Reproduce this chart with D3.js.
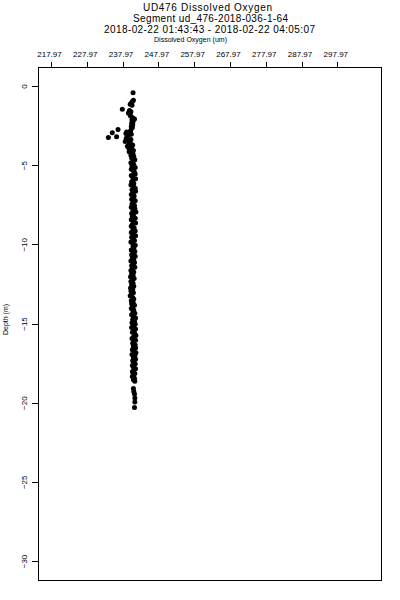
<!DOCTYPE html>
<html>
<head>
<meta charset="utf-8">
<script src="https://cdn.jsdelivr.net/npm/d3@7"></script>
<style>
  body { margin: 0; background: #fff; }
  svg { display: block; font-family: "Liberation Sans", Helvetica, Arial, sans-serif; }
</style>
</head>
<body>
<div id="chart"></div>
<script>
const titleLines = [
  "UD476 Dissolved Oxygen",
  "Segment ud_476-2018-036-1-64",
  "2018-02-22 01:43:43 - 2018-02-22 04:05:07"
];
const xLabel = "Dissolved Oxygen (um)";
const yLabel = "Depth (m)";

const xTicks = [217.97, 227.97, 237.97, 247.97, 257.97, 267.97, 277.97, 287.97, 297.97];
const xTickLabels = ["217.97", "227.97", "237.97", "247.97", "257.97", "267.97", "277.97", "287.97", "297.97"];
const yTicks = [0, -5, -10, -15, -20, -25, -30];

// near-surface samples (sparse, with the low outliers)
const depthTop = [
  -0.42, -0.9, -0.98, -1.08, -1.16, -1.22, -1.47, -1.55, -1.62, -1.7,
  -1.78, -1.9, -2.0, -2.08, -2.15, -2.25, -2.35, -2.45, -2.55, -2.62,
  -2.67, -2.74, -2.82, -2.9, -2.95, -2.97, -3.0, -3.05, -3.12, -3.2,
  -3.26, -3.3, -3.38, -3.45, -3.5, -3.58, -3.65, -3.72, -3.8, -3.86,
  -3.92, -4.0, -4.08, -4.15, -4.22, -4.3, -4.38, -4.45
];
const oxygenTop = [
  240.9, 241.0, 240.7, 240.4, 240.1, 240.6, 237.9, 239.9, 240.3, 239.6,
  240.0, 240.2, 240.8, 241.3, 240.6, 240.9, 240.5, 240.8, 240.4, 240.7,
  240.5, 236.7, 240.2, 239.1, 235.1, 239.8, 238.9, 240.4, 239.6, 236.3,
  234.0, 239.0, 240.3, 239.4, 238.7, 240.1, 239.9, 240.8, 239.3, 240.5,
  239.7, 240.2, 241.0, 239.8, 240.5, 240.9, 240.3, 241.1
];

// main column
const depthMid = [
  -4.55, -4.65, -4.75, -4.85, -4.95, -5.05, -5.15, -5.25, -5.35, -5.45,
  -5.55, -5.65, -5.75, -5.85, -5.95, -6.05, -6.15, -6.25, -6.35, -6.45,
  -6.55, -6.65, -6.75, -6.85, -6.95, -7.05, -7.15, -7.25, -7.35, -7.45,
  -7.55, -7.65, -7.75, -7.85, -7.95, -8.05, -8.15, -8.25, -8.35, -8.45,
  -8.55, -8.65, -8.75, -8.85, -8.95, -9.05, -9.15, -9.25, -9.35, -9.45,
  -9.55, -9.65, -9.75, -9.85, -9.95, -10.05, -10.15, -10.25, -10.35, -10.45,
  -10.55, -10.65, -10.75, -10.85, -10.95, -11.05, -11.15, -11.25, -11.35, -11.45,
  -11.55, -11.65, -11.75, -11.85, -11.95, -12.05, -12.15, -12.25, -12.35, -12.45,
  -12.55, -12.65, -12.75, -12.85, -12.95, -13.05, -13.15, -13.25, -13.35, -13.45,
  -13.55, -13.65, -13.75, -13.85, -13.95, -14.05, -14.15, -14.25, -14.35, -14.45,
  -14.55, -14.65, -14.75, -14.85, -14.95, -15.05, -15.15, -15.25, -15.35, -15.45,
  -15.55, -15.65, -15.75, -15.85, -15.95, -16.05, -16.15, -16.25, -16.35, -16.45,
  -16.55, -16.65, -16.75, -16.85, -16.95, -17.05, -17.15, -17.25, -17.35, -17.45,
  -17.55, -17.65, -17.75, -17.85, -17.95, -18.05, -18.15, -18.25, -18.35, -18.45,
  -18.55, -18.65
];
const oxygenMid = [
  240.5, 241.4, 240.9, 240.3, 241.1, 240.6, 241.5, 240.4, 241.0, 241.3,
  241.5, 240.4, 240.8, 241.6, 240.9, 240.5, 241.1, 240.3, 241.0, 241.5,
  240.6, 241.6, 240.9, 240.4, 241.2, 241.0, 240.5, 241.5, 240.9, 240.6,
  241.3, 240.4, 241.4, 240.9, 241.7, 240.5, 241.0, 240.7, 241.5, 240.4,
  241.0, 241.6, 240.7, 240.4, 241.2, 240.9, 241.5, 240.4, 241.0, 241.6,
  240.5, 240.9, 241.3, 240.3, 240.8, 241.5, 240.9, 241.1, 240.4, 241.4,
  240.9, 240.5, 241.5, 240.7, 241.1, 240.3, 241.3, 240.9, 240.5, 241.4,
  240.8, 240.3, 241.1, 240.5, 240.9, 240.2, 241.2, 240.7, 240.3, 240.9,
  240.5, 241.1, 240.2, 240.8, 240.3, 241.0, 240.5, 240.1, 240.8, 241.1,
  240.4, 240.9, 240.5, 241.3, 240.8, 240.4, 241.1, 240.9, 241.4, 240.5,
  241.0, 241.6, 240.8, 241.3, 240.6, 241.5, 241.0, 240.5, 241.6, 241.2,
  240.7, 241.4, 241.7, 241.0, 240.6, 241.6, 241.1, 240.8, 241.5, 241.0,
  241.6, 240.7, 241.2, 241.7, 240.6, 241.4, 241.0, 241.6, 240.8, 241.2,
  241.5, 240.7, 241.0, 241.6, 241.1, 240.7, 241.4, 241.0, 240.7, 241.3,
  241.0, 241.4
];

// deepest, sparse samples
const depthBottom = [-19.1, -19.3, -19.45, -19.7, -19.95, -20.3];
const oxygenBottom = [241.0, 241.1, 241.3, 241.4, 241.4, 241.3];

const width = 400, height = 600;
const plot = { left: 38, right: 381, top: 67, bottom: 580 };

const points = [];
[[depthTop, oxygenTop], [depthMid, oxygenMid], [depthBottom, oxygenBottom]].forEach(([ds, os]) => {
  ds.forEach((d, i) => points.push({ depth: d, oxygen: os[i] }));
});

const svg = d3.select("#chart")
  .append("svg")
  .attr("width", width)
  .attr("height", height);

const x = d3.scaleLinear().domain([214.34, 310.18]).range([plot.left, plot.right]);
const y = d3.scaleLinear().domain([1.2, -31.2]).range([plot.top, plot.bottom]);

// titles (the original bitmap font runs wide, so pin each line's width)
const titleX = [207.5, 210.5, 209.5];
const titleLen = [129, 155, 211];
svg.append("g")
  .selectAll("text")
  .data(titleLines)
  .join("text")
  .attr("x", (d, i) => titleX[i])
  .attr("y", (d, i) => 10.5 + i * 11)
  .attr("text-anchor", "middle")
  .attr("textLength", (d, i) => titleLen[i])
  .attr("lengthAdjust", "spacing")
  .style("font-size", "10px")
  .text(d => d);

svg.append("text")
  .attr("x", 190.5)
  .attr("y", 41.5)
  .attr("text-anchor", "middle")
  .attr("textLength", 73)
  .attr("lengthAdjust", "spacing")
  .style("font-size", "7px")
  .text(xLabel);

svg.append("text")
  .attr("transform", `translate(8, ${(plot.top + plot.bottom) / 2 - 4}) rotate(-90)`)
  .attr("text-anchor", "middle")
  .style("font-size", "7px")
  .text(yLabel);

// axes
const xAxis = d3.axisTop(x)
  .tickValues(xTicks)
  .tickSize(5)
  .tickPadding(5)
  .tickFormat((d, i) => xTickLabels[i]);

const gx = svg.append("g")
  .attr("transform", `translate(0, ${plot.top})`)
  .call(xAxis);
gx.select(".domain").remove();
gx.selectAll("line").attr("stroke", "#000").attr("shape-rendering", "crispEdges");
gx.selectAll("text").attr("fill", "#000").style("font-size", "8px").attr("dx", -2);

const yAxis = d3.axisLeft(y)
  .tickValues(yTicks)
  .tickSize(6)
  .tickFormat(d3.format("d"));

const gy = svg.append("g")
  .attr("transform", `translate(${plot.left}, 0)`)
  .call(yAxis);
gy.select(".domain").remove();
gy.selectAll("line").attr("stroke", "#000").attr("shape-rendering", "crispEdges");
gy.selectAll("text")
  .attr("fill", "#000")
  .style("font-size", "8px")
  .attr("transform", "rotate(-90)")
  .attr("x", 0)
  .attr("y", -11)
  .attr("dy", 0)
  .attr("text-anchor", "middle");

// frame
svg.append("rect")
  .attr("x", plot.left + 0.5)
  .attr("y", plot.top + 0.5)
  .attr("width", plot.right - plot.left)
  .attr("height", plot.bottom - plot.top)
  .attr("fill", "none")
  .attr("stroke", "#000")
  .attr("stroke-width", 1);

// points
svg.append("g")
  .selectAll("circle")
  .data(points)
  .join("circle")
  .attr("cx", d => x(d.oxygen))
  .attr("cy", d => y(d.depth))
  .attr("r", 2.5)
  .attr("fill", "#000");
</script>
</body>
</html>
